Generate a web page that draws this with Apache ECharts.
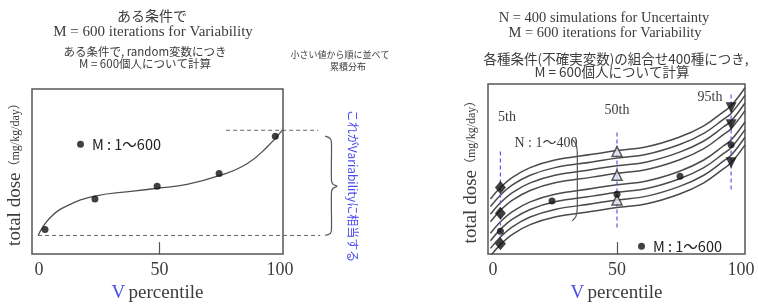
<!DOCTYPE html>
<html>
<head>
<meta charset="utf-8">
<script src="https://cdn.jsdelivr.net/npm/echarts@6/dist/echarts.min.js"></script>
<style>
  html, body { margin: 0; padding: 0; background: #fff; }
  #chart { width: 758px; height: 308px; }
</style>
</head>
<body>
<div id="chart"></div>
<script>
// left panel: one person sample curve (values are height above box bottom)
const leftCurve = [[-0.4, 19], [4.6, 37], [11.6, 49], [23.2, 59], [39, 64], [49, 67], [61.4, 71], [75.1, 80], [86.3, 92], [94.6, 109], [101.2, 127]]
const leftDots = [[2.5, 25], [23.2, 56], [49, 69], [74.7, 82], [98, 120]]
const leftRangeLow = [[-0.4, 19], [116.6, 19]]
const leftRangeHigh = [[77.6, 126], [115.8, 126]]
const leftBrace = [[118.7, 120], [120.8, 117.5], [121.3, 113], [121.3, 75], [122, 71], [123.6, 69], [122, 67], [121.3, 63], [121.3, 25], [120.8, 21], [118.7, 19]]

// right panel: N curves
const curveX = [-1, 3, 8, 15, 25, 40, 50, 62, 75, 85, 93, 96, 101.6]
const curve1 = [58, 70, 81, 91, 99, 105, 109, 113, 123, 135, 150, 156, 175]
const curve2 = [50, 62, 73, 83, 91, 97, 101, 105, 115, 127, 142, 148, 167]
const curve3 = [42, 54, 65, 75, 83, 89, 93, 97, 107, 119, 134, 140, 159]
const curve4 = [34, 46, 57, 67, 75, 81, 85, 89, 99, 111, 126, 132, 151]
const curve5 = [22, 34, 45, 55, 63, 69, 73, 77, 87, 99, 114, 120, 139]
const curve6 = [14, 26, 37, 47, 55, 61, 65, 69, 79, 91, 106, 112, 131]
const curve7 = [6, 18, 29, 39, 47, 53, 57, 61, 71, 83, 98, 104, 123]
const curve8 = [-2, 10, 21, 31, 39, 45, 49, 53, 63, 75, 90, 96, 115]
const rightDiamonds = [[3, 70], [3, 43], [3, 11]]
const rightUp = [[50, 108], [50, 83], [50, 57]]
const rightDown = [[96, 154], [96, 136], [96, 96]]
const rightDots = [[3, 24], [23.8, 56], [50, 63], [75.4, 82], [96, 115]]
const guides = [[3, 108, 6], [50, 128, 25], [96, 168, 65]]
const nBracket = [[31.9, 121], [33.5, 115], [34, 106], [34, 50], [33.5, 40], [31.9, 35]]

const xTicks = [0, 50, 100]
const dotName = 'M : 1〜600'

const serif = '"Liberation Serif", "DejaVu Serif", "Noto Sans CJK JP", serif'
const jp = '"Noto Sans CJK JP", sans-serif'
const grey = '#3c3c3c'

const chart = echarts.init(document.getElementById('chart'))

function xAx (idx, min, max) {
  return {
    gridIndex: idx,
    type: 'value',
    min: min,
    max: max,
    splitLine: {show: false},
    axisLine: {show: false, onZero: false},
    axisTick: {show: true, inside: true, length: 12, customValues: [50], lineStyle: {color: '#555', width: 1.2}},
    axisLabel: {customValues: xTicks, margin: 7, fontSize: 18, fontFamily: serif, color: grey},
    name: '{v|V} {p|percentile}',
    nameLocation: 'middle',
    nameGap: 21,
    nameTextStyle: {
      rich: {
        v: {fontSize: 19, fontFamily: serif, color: '#4b4bee'},
        p: {fontSize: 19, fontFamily: serif, color: grey}
      }
    }
  }
}

function yAx (idx, max) {
  return {
    gridIndex: idx,
    type: 'value',
    min: 0,
    max: max,
    splitLine: {show: false},
    axisLine: {show: false},
    axisTick: {show: false},
    axisLabel: {show: false},
    name: '{a|total dose}{b|（mg/kg/day）}',
    nameLocation: 'middle',
    nameGap: 7,
    nameTextStyle: {
      rich: {
        a: {fontSize: 19, fontFamily: serif, color: grey},
        b: {fontSize: 12, fontFamily: serif, color: grey}
      }
    }
  }
}

const curveSeries = [curve1, curve2, curve3, curve4, curve5, curve6, curve7, curve8].map(c => ({
  type: 'line',
  xAxisIndex: 1,
  yAxisIndex: 1,
  smooth: 0.4,
  showSymbol: false,
  data: curveX.map((x, i) => [x, c[i]]),
  lineStyle: {color: '#4a4a4a', width: 1.5},
  z: 2
}))

const guideSeries = guides.map(g => ({
  type: 'line',
  xAxisIndex: 1,
  yAxisIndex: 1,
  showSymbol: false,
  data: [[g[0], g[1]], [g[0], g[2]]],
  lineStyle: {color: '#5a5ae8', width: 1.2, type: [4, 3]},
  z: 3
}))

function txt (x, y, text, font, fill) {
  return {type: 'text', x: x, y: y, style: {text: text, font: font, fill: fill || grey, align: 'center', verticalAlign: 'middle'}}
}

const texts = [
  txt(152, 16, 'ある条件で', '14px ' + jp),
  txt(153, 32, 'M = 600 iterations for Variability', '15px ' + serif),
  txt(145, 52, 'ある条件で, random変数につき', '11.5px ' + jp),
  txt(145, 64, 'M = 600個人について計算', '11.5px ' + jp),
  txt(340, 55, '小さい値から順に並べて', '9px ' + jp),
  txt(348, 67, '累積分布', '9px ' + jp),
  txt(604, 18, 'N = 400 simulations for Uncertainty', '14.5px ' + serif),
  txt(605, 33, 'M = 600 iterations for Variability', '14.5px ' + serif),
  txt(616, 59, '各種条件(不確実変数)の組合せ400種につき,', '13.5px ' + jp),
  txt(612, 72, 'M = 600個人について計算', '13.5px ' + jp),
  txt(507, 117, '5th', '14px ' + serif),
  txt(617, 110, '50th', '14px ' + serif),
  txt(710, 97, '95th', '14px ' + serif),
  txt(546, 143, 'N : 1〜400', '14px ' + serif),
  {type: 'text', x: 353, y: 186, rotation: -Math.PI / 2,
    style: {text: 'これがVariabilityに相当する', font: '12px ' + jp, fill: '#4b4bee', align: 'center', verticalAlign: 'middle'}}
]

const option = {
  animation: false,
  grid: [
    {left: 32, top: 89, width: 251, height: 168, show: true, borderColor: '#555', borderWidth: 1.5},
    {left: 488, top: 84, width: 257, height: 179, show: true, borderColor: '#555', borderWidth: 1.5}
  ],
  xAxis: [xAx(0, -2.9, 101.2), xAx(1, -2, 101.6)],
  yAxis: [yAx(0, 168), yAx(1, 179)],
  legend: [
    {left: 72, top: 132, data: [dotName], icon: 'circle', itemWidth: 7, itemHeight: 7, itemGap: 0, selectedMode: false,
      textStyle: {fontSize: 14.5, fontFamily: jp, color: '#222', padding: [0, 0, 0, 3]}},
    {left: 633, top: 234, data: [dotName], icon: 'circle', itemWidth: 7, itemHeight: 7, itemGap: 0, selectedMode: false,
      textStyle: {fontSize: 14.5, fontFamily: jp, color: '#222', padding: [0, 0, 0, 3]}}
  ],
  series: [
    {type: 'line', xAxisIndex: 0, yAxisIndex: 0, smooth: 0.45, showSymbol: false, data: leftCurve,
      lineStyle: {color: '#505050', width: 1.3}},
    {type: 'scatter', name: dotName, xAxisIndex: 0, yAxisIndex: 0, data: leftDots, symbolSize: 7,
      itemStyle: {color: '#111'}, z: 4},
    ...curveSeries,
    ...guideSeries,
    {type: 'line', xAxisIndex: 1, yAxisIndex: 1, showSymbol: false, smooth: 0.35, data: nBracket,
      lineStyle: {color: '#555', width: 1.2}},
    {type: 'scatter', xAxisIndex: 1, yAxisIndex: 1, data: rightDiamonds, symbol: 'diamond', symbolSize: [11, 13],
      itemStyle: {color: '#111'}, z: 5},
    {type: 'scatter', xAxisIndex: 1, yAxisIndex: 1, data: rightUp, symbol: 'triangle', symbolSize: 10,
      itemStyle: {color: '#dfe3f2', borderColor: '#333', borderWidth: 1.5}, z: 5},
    {type: 'scatter', xAxisIndex: 1, yAxisIndex: 1, data: rightDown, symbol: 'triangle', symbolRotate: 180, symbolSize: 11,
      itemStyle: {color: '#111'}, z: 5},
    {type: 'scatter', name: dotName, xAxisIndex: 1, yAxisIndex: 1, data: rightDots, symbolSize: 7,
      itemStyle: {color: '#111'}, z: 6}
  ],
  graphic: texts
}

chart.setOption(option)

// range lines and brace sit outside the plot box, so place them through the left grid's scales
const toPx = p => chart.convertToPixel({gridIndex: 0}, p)
function dashed (seg) {
  const a = toPx(seg[0])
  const b = toPx(seg[1])
  return {type: 'line', shape: {x1: a[0], y1: a[1], x2: b[0], y2: b[1]},
    style: {stroke: '#666', lineWidth: 1, lineDash: [4, 3]}, z: 10}
}
chart.setOption({
  graphic: texts.concat([
    dashed(leftRangeLow),
    dashed(leftRangeHigh),
    {type: 'polyline', shape: {points: leftBrace.map(toPx), smooth: 0.3},
      style: {stroke: '#555', lineWidth: 1.2, fill: null}, z: 10}
  ])
})

window.addEventListener('resize', () => chart.resize())
</script>
</body>
</html>
